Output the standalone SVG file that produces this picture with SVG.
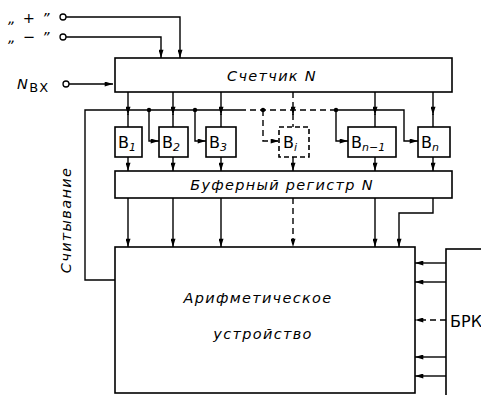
<svg xmlns="http://www.w3.org/2000/svg" width="481" height="395" viewBox="0 0 481 395">
<defs>
<marker id="ad" viewBox="0 0 10 6" refX="10" refY="3" markerWidth="9" markerHeight="5" markerUnits="userSpaceOnUse" orient="auto"><path d="M0,0 L10,3 L0,6 z" fill="#000"/></marker>
<style>
.l{fill:none;stroke:#000;stroke-width:1.4}
.d{fill:none;stroke:#000;stroke-width:1.4;stroke-dasharray:6 4}
.a{marker-end:url(#ad)}
.b{fill:#fff;stroke:#000;stroke-width:1.6}
.bd{fill:#fff;stroke:#000;stroke-width:1.6;stroke-dasharray:5 3}
.t{font-family:"DejaVu Sans","Liberation Sans",sans-serif;font-style:italic;font-size:14.5px;letter-spacing:1.3px;fill:#000}
.bl{font-family:"DejaVu Sans","Liberation Sans",sans-serif;font-size:16px;fill:#000}
.s{font-size:11px;font-style:italic}
.dot{fill:#000}
.c{fill:#fff;stroke:#000;stroke-width:1.3}
</style>
</defs>
<g id="connectors">
<path class="l a" d="M66,17 H180 V58"/>
<path class="l a" d="M66,37 H161 V58"/>
<path class="l a" d="M69,84 H113"/>
<path class="l" d="M240,110 H85 V280 H115"/>
<path class="d" d="M240,110 H336"/>
<path class="l a" d="M336,110 H404 V141 H418"/>
<path class="l a" d="M128,92 V115"/><path class="l" d="M128,114 V127"/>
<path class="l a" d="M173,92 V115"/><path class="l" d="M173,114 V127"/>
<path class="l a" d="M221,92 V115"/><path class="l" d="M221,114 V127"/>
<path class="d a" d="M293,92 V115"/><path class="d" d="M293,114 V127"/>
<path class="l a" d="M375,92 V115"/><path class="l" d="M375,114 V127"/>
<path class="l a" d="M433,92 V115"/><path class="l" d="M433,114 V127"/>
<path class="l a" d="M149,110 V141 H159"/>
<path class="l a" d="M195,110 V141 H206"/>
<path class="d a" d="M263,110 V141 H279"/>
<path class="l a" d="M336,110 V141 H348"/>
<circle class="dot" cx="149" cy="110" r="2.2"/>
<circle class="dot" cx="195" cy="110" r="2.2"/>
<circle class="dot" cx="263" cy="110" r="2.2"/>
<circle class="dot" cx="336" cy="110" r="2.2"/>
<path class="l a" d="M128,157 V171"/>
<path class="l a" d="M173,157 V171"/>
<path class="l a" d="M221,157 V171"/>
<path class="d a" d="M293,157 V171"/>
<path class="l a" d="M375,157 V171"/>
<path class="l a" d="M433,157 V171"/>
<path class="l a" d="M128,198 V247"/>
<path class="l a" d="M173,198 V247"/>
<path class="l a" d="M221,198 V247"/>
<path class="d a" d="M293,198 V247"/>
<path class="l a" d="M375,198 V247"/>
<path class="l a" d="M433,198 V213 H399 V247"/>
<path class="l a" d="M446,263 H415"/>
<path class="l a" d="M446,282 H415"/>
<path class="d a" d="M446,320 H415"/>
<path class="l a" d="M446,357 H415"/>
<path class="l a" d="M446,376 H415"/>
</g>
<g id="inputs">
<circle class="c" cx="63" cy="17" r="3"/>
<circle class="c" cx="63" cy="37" r="3"/>
<circle class="c" cx="66" cy="84" r="3"/>
<text class="t" x="8" y="23" font-style="normal" font-size="15" letter-spacing="0">„ + ”</text>
<text class="t" x="8" y="42" font-style="normal" font-size="15" letter-spacing="0">„ − ”</text>
<text class="t" x="17" y="89" font-size="17" letter-spacing="0">N<tspan font-style="normal" font-size="13" dy="3">BX</tspan></text>
</g>
<g id="counter">
<rect class="b" x="115" y="58" width="337" height="34"/>
<text class="t" x="272" y="81" text-anchor="middle">Счетчик N</text>
</g>
<g id="B1"><rect class="b" x="115" y="127" width="27" height="30"/><text class="bl" x="118" y="148">B<tspan class="s" dy="3">1</tspan></text></g>
<g id="B2"><rect class="b" x="159" y="127" width="29" height="30"/><text class="bl" x="162" y="148">B<tspan class="s" dy="3">2</tspan></text></g>
<g id="B3"><rect class="b" x="206" y="127" width="30" height="30"/><text class="bl" x="209" y="148">B<tspan class="s" dy="3">3</tspan></text></g>
<g id="Bi"><rect class="bd" x="279" y="127" width="30" height="30"/><text class="bl" x="283" y="148">B<tspan class="s" dy="3">i</tspan></text></g>
<g id="Bn1"><rect class="b" x="348" y="127" width="48" height="30"/><text class="bl" x="351" y="148">B<tspan class="s" dy="3">n−1</tspan></text></g>
<g id="Bn"><rect class="b" x="418" y="127" width="32" height="30"/><text class="bl" x="421" y="148">B<tspan class="s" dy="3">n</tspan></text></g>
<g id="buffer">
<rect class="b" x="115" y="171" width="337" height="27"/>
<text class="t" x="282" y="190" text-anchor="middle">Буферный регистр N</text>
</g>
<g id="alu">
<rect class="b" x="115" y="247" width="300" height="146"/>
<text class="t" x="258" y="303" text-anchor="middle">Арифметическое</text>
<text class="t" x="263" y="339" text-anchor="middle">устройство</text>
</g>
<g id="brk">
<rect class="b" x="446" y="249" width="50" height="150"/>
<text class="bl" x="450" y="327" font-size="14">БРК</text>
</g>
<text class="t" transform="translate(71,220) rotate(-90)" text-anchor="middle">Считывание</text>
</svg>
